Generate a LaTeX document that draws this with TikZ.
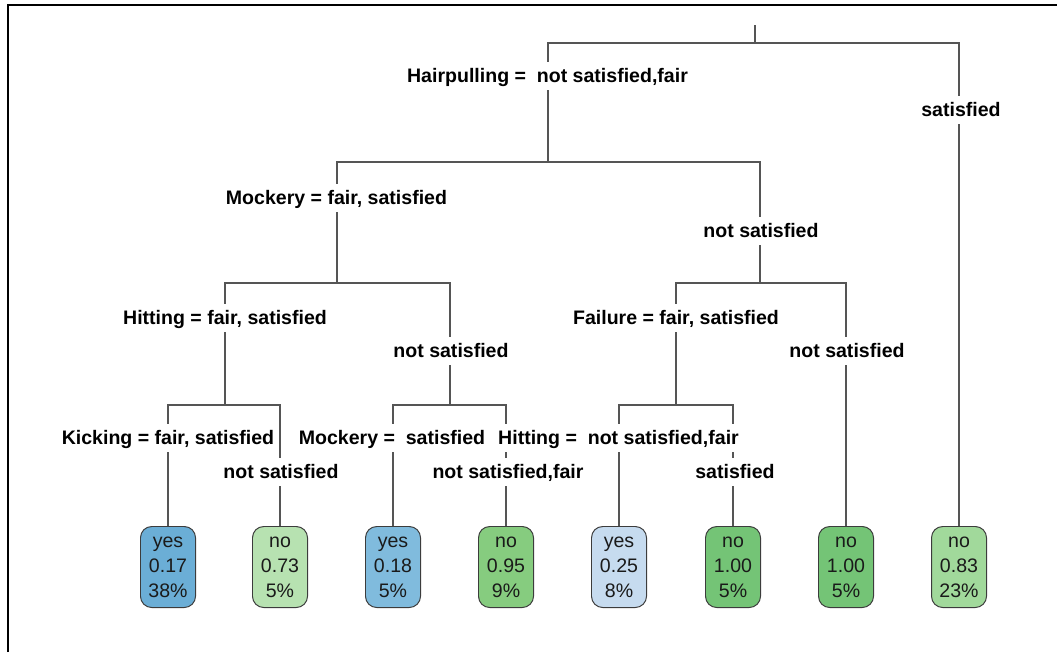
\documentclass[tikz,border=0pt]{standalone}
\usepackage{fontspec}
\setmainfont{Liberation Sans}
\usetikzlibrary{positioning}
\definecolor{treeline}{HTML}{555555}
\definecolor{leafline}{HTML}{3C3C3C}
\definecolor{leaftext}{HTML}{1A1A1A}
\definecolor{yesA}{HTML}{6BAED6}
\definecolor{yesB}{HTML}{80BBDD}
\definecolor{yesC}{HTML}{C6DBEF}
\definecolor{noA}{HTML}{B7E2B1}
\definecolor{noB}{HTML}{86CC7F}
\definecolor{noC}{HTML}{74C476}
\definecolor{noD}{HTML}{A1D99B}
\tikzset{
    leaf/.style={draw=leafline, line width=0.7pt, rounded corners=8pt, minimum width=1.375cm,
        minimum height=2.025cm, inner sep=0pt, align=center, text=leaftext,
        font=\fontsize{13.9}{17.8}\selectfont},
    split/.style={fill=white, inner xsep=1.5pt, inner ysep=4.8pt, text height=1em, text depth=0.05em,
        font=\fontsize{13.9}{17.8}\selectfont\bfseries},
    branch/.style={draw=treeline, line width=1pt}
}

\begin{document}
\begin{tikzpicture}[x=0.025cm, y=-0.025cm]
        \useasboundingbox (0,0) rectangle (1057,652);
        \draw[line width=1.5pt] (8,652) -- (8,5) -- (1057,5);
        \coordinate (top) at (755,25);
        \coordinate (s0) at (755,43);
        \coordinate (s1) at (548,162);
        \coordinate (s2) at (337,283);
        \coordinate (s3) at (760,283);
        \coordinate (s4) at (225,405);
        \coordinate (s5) at (450,405);
        \coordinate (s6) at (676,405);
        \node[leaf,fill=yesA] at (168,567) (l1) {yes\\0.17\\38\%};
        \node[leaf,fill=noA] at (280,567) (l2) {no\\0.73\\5\%};
        \node[leaf,fill=yesB] at (393,567) (l3) {yes\\0.18\\5\%};
        \node[leaf,fill=noB] at (506,567) (l4) {no\\0.95\\9\%};
        \node[leaf,fill=yesC] at (619,567) (l5) {yes\\0.25\\8\%};
        \node[leaf,fill=noC] at (733,567) (l6) {no\\1.00\\5\%};
        \node[leaf,fill=noC] at (846,567) (l7) {no\\1.00\\5\%};
        \node[leaf,fill=noD] at (959,567) (l8) {no\\0.83\\23\%};
        \path[branch]
        (top) -- (s0)
        (s0) -| (s1)  (s0) -| (l8.north)
        (s1) -| (s2)  (s1) -| (s3)
        (s2) -| (s4)  (s2) -| (s5)
        (s3) -| (s6)  (s3) -| (l7.north)
        (s4) -| (l1.north)  (s4) -| (l2.north)
        (s5) -| (l3.north)  (s5) -| (l4.north)
        (s6) -| (l5.north)  (s6) -| (l6.north)
        ;
        \node[split] at (547.5,76) (s0l) {Hairpulling =\ \ not satisfied,fair};
        \node[split] at (961,110) (s0r) {satisfied};
        \node[split] at (336.5,198) (s1l) {Mockery = fair, satisfied};
        \node[split] at (761,231) (s1r) {not satisfied};
        \node[split] at (225,318) (s2l) {Hitting = fair, satisfied};
        \node[split] at (451,351) (s2r) {not satisfied};
        \node[split] at (676,318) (s3l) {Failure = fair, satisfied};
        \node[split] at (847,351) (s3r) {not satisfied};
        \node[split] at (168,438) (s4l) {Kicking = fair, satisfied};
        \node[split] at (281,472) (s4r) {not satisfied};
        \node[split] at (392,438) (s5l) {Mockery =\ \ satisfied};
        \node[split] at (508,472) (s5r) {not satisfied,fair};
        \node[split] at (618.5,438) (s6l) {Hitting =\ \ not satisfied,fair};
        \node[split] at (735,472) (s6r) {satisfied};
    \end{tikzpicture}
\end{document}
